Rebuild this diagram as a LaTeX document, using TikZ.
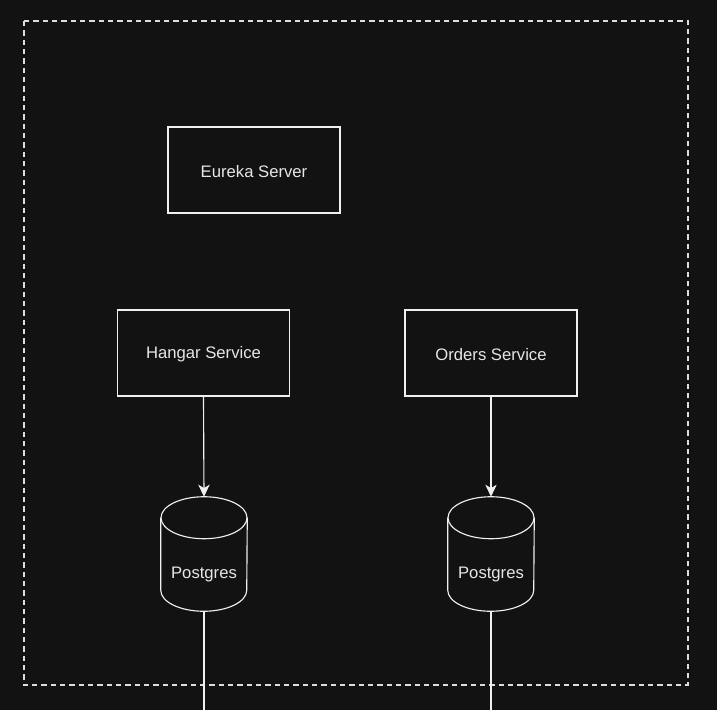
\documentclass[tikz,border=0pt]{standalone}
\usepackage{fontspec}
\setmainfont{Liberation Sans}
\usetikzlibrary{arrows.meta}
\definecolor{bg}{HTML}{121212}
\definecolor{ln}{HTML}{F0F0F0}
\definecolor{tx}{HTML}{E6E6E6}
\definecolor{dashcol}{HTML}{DDDDDD}
\begin{document}
\begin{tikzpicture}[x=0.75pt,y=-0.75pt,
  svcbox/.style={draw=ln, line width=0.85pt, fill=bg, minimum width=129pt, minimum height=64.5pt, inner sep=0pt, text=tx},
  dbshape/.style={minimum width=64.5pt, minimum height=85.5pt, inner sep=0pt},
  lbl/.style={text=tx, font=\fontsize{12.5pt}{15pt}\selectfont},
  conn/.style={draw=ln, line width=0.85pt},
  arr/.style={conn, -{Stealth[length=9pt,width=8.5pt,inset=2.5pt]}},
  outline/.style={draw=ln, line width=0.85pt}]
\fill[bg] (0,0) rectangle (717,710);
\useasboundingbox (0,0) rectangle (717,710);
\draw[draw=dashcol, line width=0.8pt, dash pattern=on 4pt off 3pt] (24,21) rectangle (688,685);
\node[svcbox] (eureka) at (254,170) {};
\node[svcbox] (hangar) at (203.5,353) {};
\node[svcbox] (orders) at (491,353) {};
\node[lbl] (t1) at (254,171.5) {Eureka Server};
\node[lbl] (t2) at (203.5,354.5) {Hangar Service};
\node[lbl] (t3) at (491,354.5) {Orders Service};
\node[dbshape] (db1) at (204,554) {};
\node[dbshape] (db2) at (491,554) {};
\foreach \d in {db1,db2}{
  \draw[outline] ([yshift=-15.75pt]\d.north west) -- ([yshift=15.75pt]\d.south west)
     arc[start angle=180,end angle=360,x radius=32.25pt,y radius=15.75pt]
     -- ([yshift=-15.75pt]\d.north east);
  \draw[outline] ([yshift=-15.75pt]\d.north) ellipse[x radius=32.25pt,y radius=15.75pt];
  \node[lbl] at ([yshift=-15.5pt]\d.center) {Postgres};
}
\coordinate (end1) at (204,710);
\coordinate (end2) at (491,710);
\draw[arr] (hangar.south) -- (db1.north);
\draw[arr] (orders.south) -- (db2.north);
\draw[conn] (db1.south) -- (end1);
\draw[conn] (db2.south) -- (end2);
\end{tikzpicture}
\end{document}
